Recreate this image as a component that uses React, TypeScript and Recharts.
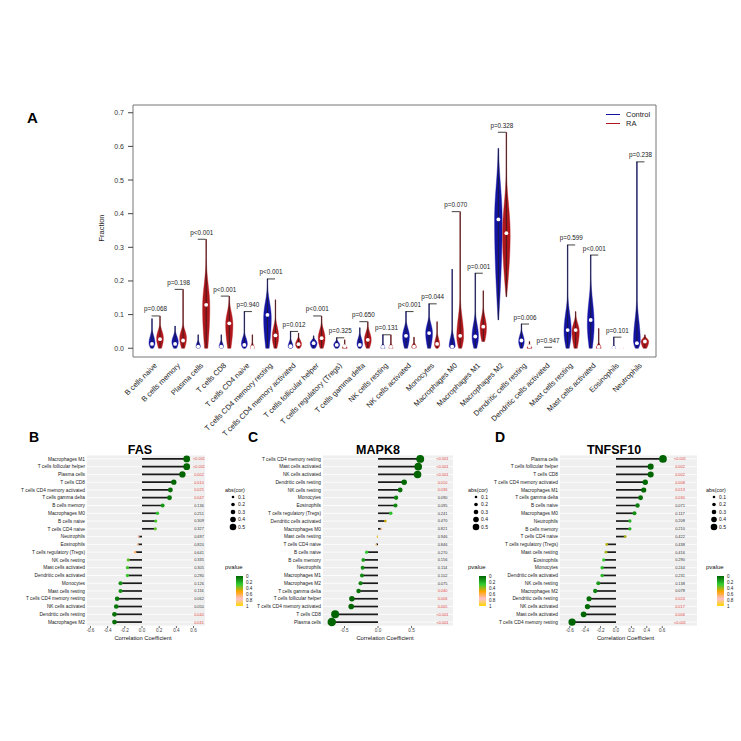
import React from 'react';
import { ComposedChart, Bar, Line, XAxis, YAxis, CartesianGrid, Legend } from 'recharts';

const FONT = '"Liberation Sans", Arial, Helvetica, sans-serif';

// ---------- panel A: immune cell fractions, Control vs RA ----------
const cellTypes = [
  'B cells naive', 'B cells memory', 'Plasma cells', 'T cells CD8', 'T cells CD4 naive',
  'T cells CD4 memory resting', 'T cells CD4 memory activated', 'T cells follicular helper',
  'T cells regulatory (Tregs)', 'T cells gamma delta', 'NK cells resting', 'NK cells activated',
  'Monocytes', 'Macrophages M0', 'Macrophages M1', 'Macrophages M2', 'Dendritic cells resting',
  'Dendritic cells activated', 'Mast cells resting', 'Mast cells activated', 'Eosinophils', 'Neutrophils',
];
const groupNames = ['Control', 'RA'];

// each violin: [min, max, median, densest value, top of the body, relative width]
const controlViolins = [
  [0, 0.088, 0.013, 0.015, 0.06, 0.75],
  [0, 0.066, 0.013, 0.018, 0.055, 0.8],
  [0, 0.04, 0.005, 0.004, 0.028, 0.55],
  [0, 0.04, 0.005, 0.004, 0.028, 0.55],
  [0, 0.109, 0.01, 0.012, 0.05, 0.75],
  [0, 0.206, 0.099, 0.09, 0.185, 0.95],
  [0, 0.05, 0.006, 0.005, 0.032, 0.6],
  [0, 0.037, 0.015, 0.015, 0.033, 0.85],
  [0, 0.031, 0.01, 0.01, 0.027, 0.75],
  [0, 0.061, 0.01, 0.012, 0.05, 0.7],
  [0, 0.04, 0.004, 0, 0.018, 0.5],
  [0, 0.109, 0.037, 0.035, 0.085, 0.85],
  [0, 0.132, 0.045, 0.045, 0.1, 0.85],
  [0, 0.235, 0.005, 0.005, 0.06, 0.75],
  [0, 0.223, 0.035, 0.035, 0.11, 0.8],
  [0.084, 0.594, 0.383, 0.38, 0.594, 0.95],
  [0, 0.072, 0.023, 0.02, 0.06, 0.7],
  [0, 0.003, 0.0005, 0, 0.002, 0.4],
  [0, 0.307, 0.054, 0.05, 0.16, 0.9],
  [0, 0.277, 0.084, 0.07, 0.21, 0.85],
  [0, 0.033, 0.002, 0, 0.012, 0.45],
  [0, 0.554, 0.015, 0.02, 0.15, 0.85],
];
const raViolins = [
  [0, 0.096, 0.027, 0.03, 0.075, 0.85],
  [0, 0.175, 0.023, 0.03, 0.075, 0.85],
  [0, 0.324, 0.129, 0.12, 0.26, 0.9],
  [0, 0.155, 0.074, 0.07, 0.145, 0.9],
  [0, 0.04, 0.003, 0, 0.02, 0.5],
  [0, 0.144, 0.038, 0.035, 0.095, 0.8],
  [0, 0.045, 0.012, 0.012, 0.037, 0.75],
  [0, 0.096, 0.03, 0.03, 0.08, 0.85],
  [0, 0.025, 0.006, 0, 0.016, 0.6],
  [0, 0.079, 0.025, 0.025, 0.07, 0.85],
  [0, 0.04, 0.004, 0, 0.018, 0.5],
  [0, 0.033, 0.005, 0.003, 0.02, 0.6],
  [0, 0.079, 0.013, 0.01, 0.05, 0.65],
  [0, 0.406, 0.037, 0.035, 0.15, 0.85],
  [0.02, 0.171, 0.064, 0.06, 0.125, 0.8],
  [0.153, 0.642, 0.342, 0.34, 0.52, 0.95],
  [0, 0.02, 0.006, 0, 0.016, 0.6],
  [0, 0.003, 0.0005, 0, 0.002, 0.4],
  [0, 0.109, 0.054, 0.05, 0.1, 0.9],
  [0, 0.059, 0.004, 0, 0.02, 0.6],
  [0, 0.004, 0.001, 0, 0.003, 0.4],
  [0, 0.04, 0.02, 0.02, 0.038, 0.95],
];
const pLabels = [
  'p=0.068', 'p=0.198', 'p<0.001', 'p<0.001', 'p=0.940', 'p<0.001', 'p=0.012', 'p<0.001',
  'p=0.325', 'p=0.650', 'p=0.131', 'p<0.001', 'p=0.044', 'p=0.070', 'p=0.001', 'p=0.328',
  'p=0.006', 'p=0.947', 'p=0.599', 'p<0.001', 'p=0.101', 'p=0.238',
];
const fractionTicks = [0, 0.1, 0.2, 0.3, 0.4, 0.5, 0.6, 0.7];

// ---------- panels B-D: correlation lollipops ----------
const fasCells = [
  'Macrophages M1', 'T cells follicular helper', 'Plasma cells', 'T cells CD8', 'T cells CD4 memory activated',
  'T cells gamma delta', 'B cells memory', 'Macrophages M0', 'B cells naive', 'T cells CD4 naive', 'Neutrophils',
  'Eosinophils', 'T cells regulatory (Tregs)', 'NK cells resting', 'Mast cells activated', 'Dendritic cells activated',
  'Monocytes', 'Mast cells resting', 'T cells CD4 memory resting', 'NK cells activated', 'Dendritic cells resting',
  'Macrophages M2',
];
const fasCor = [0.52, 0.52, 0.47, 0.37, 0.33, 0.32, 0.24, 0.18, 0.16, 0.155, -0.04, -0.05, -0.08, -0.16, -0.17, -0.17, -0.25, -0.25, -0.29, -0.3, -0.32, -0.32];
const fasP = [0.0004, 0.0004, 0.002, 0.01, 0.025, 0.047, 0.136, 0.251, 0.309, 0.327, 0.697, 0.82, 0.641, 0.335, 0.305, 0.29, 0.126, 0.116, 0.062, 0.05, 0.04, 0.031];

const mapk8Cells = [
  'T cells CD4 memory resting', 'Mast cells activated', 'NK cells activated', 'Dendritic cells resting',
  'NK cells resting', 'Monocytes', 'Eosinophils', 'T cells regulatory (Tregs)', 'Dendritic cells activated',
  'Macrophages M0', 'Mast cells resting', 'T cells CD4 naive', 'B cells naive', 'B cells memory', 'Neutrophils',
  'Macrophages M1', 'Macrophages M2', 'T cells gamma delta', 'T cells follicular helper',
  'T cells CD4 memory activated', 'T cells CD8', 'Plasma cells',
];
const mapk8Cor = [0.63, 0.6, 0.59, 0.39, 0.33, 0.27, 0.26, 0.19, 0.11, 0.05, -0.01, -0.03, -0.17, -0.22, -0.23, -0.24, -0.26, -0.29, -0.39, -0.4, -0.64, -0.69];
const mapk8P = [0.0004, 0.0004, 0.0004, 0.01, 0.036, 0.09, 0.095, 0.241, 0.47, 0.821, 0.946, 0.846, 0.27, 0.156, 0.114, 0.102, 0.075, 0.04, 0.006, 0.005, 0.0004, 0.0004];

const tnfsf10Cells = [
  'Plasma cells', 'T cells follicular helper', 'T cells CD8', 'T cells CD4 memory activated', 'Macrophages M1',
  'T cells gamma delta', 'B cells naive', 'Macrophages M0', 'Neutrophils', 'B cells memory', 'T cells CD4 naive',
  'T cells regulatory (Tregs)', 'Mast cells resting', 'Eosinophils', 'Monocytes', 'Dendritic cells activated',
  'NK cells resting', 'Macrophages M2', 'Dendritic cells resting', 'NK cells activated', 'Mast cells activated',
  'T cells CD4 memory resting',
];
const tnfsf10Cor = [0.61, 0.45, 0.45, 0.38, 0.36, 0.32, 0.28, 0.24, 0.18, 0.18, 0.12, -0.12, -0.13, -0.16, -0.18, -0.18, -0.23, -0.27, -0.35, -0.37, -0.42, -0.57];
const tnfsf10P = [0.0004, 0.002, 0.002, 0.008, 0.013, 0.03, 0.071, 0.117, 0.208, 0.21, 0.422, 0.438, 0.416, 0.29, 0.244, 0.231, 0.138, 0.078, 0.024, 0.017, 0.006, 0.0004];

const sizeLevels = [0.1, 0.2, 0.3, 0.4, 0.5];
const pvalueLevels = [0, 0.2, 0.4, 0.6, 0.8, 1];

const groupColors = ['#1414a4', '#b0171c'];
const pStops = ['#006400', '#32cd32', '#ffa500', '#ffc0cb', '#ffd700'];
const pOffsets = [0, 0.28, 0.52, 0.76, 1];

const hexToRgb = (h: string) => [1, 3, 5].map((i) => parseInt(h.slice(i, i + 2), 16));
const pColor = (p: number) => {
  const t = Math.min(1, Math.max(0, p));
  let i = 0;
  while (i < pOffsets.length - 2 && t > pOffsets[i + 1]) i++;
  const f = (t - pOffsets[i]) / (pOffsets[i + 1] - pOffsets[i]);
  const a = hexToRgb(pStops[i]);
  const b = hexToRgb(pStops[i + 1]);
  const c = a.map((v, k) => Math.round(v + (b[k] - v) * f));
  return `rgb(${c[0]},${c[1]},${c[2]})`;
};
const dotRadius = (c: number) => 0.8 + 5 * Math.abs(c);
const fmtP = (p: number) => (p < 0.001 ? '<0.001' : p.toFixed(3));

const violinData = cellTypes.map((name, i) => ({
  name,
  ctrl: [controlViolins[i][0], controlViolins[i][1]],
  ra: [raViolins[i][0], raViolins[i][1]],
  ctrlStats: controlViolins[i],
  raStats: raViolins[i],
  mx: Math.max(controlViolins[i][1], raViolins[i][1]),
  pLabel: pLabels[i],
}));

// violin drawn inside the range bar that recharts lays out from [min, max]
const Violin = (props: any) => {
  const { x, y, width, height, payload, statsKey, color } = props;
  if (!payload) return null;
  const [lo, hi, med, mode, body, w] = payload[statsKey];
  const top = Math.min(y, y + height);
  const h = Math.abs(height);
  const cx = x + width / 2;
  const span = hi - lo;
  const toY = (v: number) => top + (h * (hi - v)) / span;
  const base = lo > 0.05 ? 0.08 : 0.45;
  const halfAt = (v: number) => {
    let f: number;
    if (v <= mode) f = mode > lo ? base + (1 - base) * Math.sin((Math.PI / 2) * ((v - lo) / (mode - lo))) : 1;
    else if (v <= body) f = 0.1 + 0.9 * 0.5 * (1 + Math.cos((Math.PI * (v - mode)) / (body - mode)));
    else f = 0.1 * (1 - (v - body) / (hi - body));
    return Math.max(0.3, (f * w * width) / 2);
  };
  const n = 60;
  const right: string[] = [];
  const left: string[] = [];
  for (let i = 0; i <= n; i++) {
    const v = lo + (span * i) / n;
    const hw = halfAt(v);
    right.push(`${(cx + hw).toFixed(2)},${toY(v).toFixed(2)}`);
    left.unshift(`${(cx - hw).toFixed(2)},${toY(v).toFixed(2)}`);
  }
  return (
    <g>
      <path d={`M${right.join('L')}L${left.join('L')}Z`} fill={color} stroke={color} strokeWidth={0.4} />
      <line x1={cx} x2={cx} y1={toY(lo)} y2={toY(hi)} stroke="#1a1a1a" strokeWidth={0.7} />
      <circle cx={cx} cy={toY(med)} r={1.9} fill="#fff" />
    </g>
  );
};

const renderBracket = (props: any) => {
  const { cx, cy, payload, index } = props;
  return (
    <g key={`br${index}`}>
      <line x1={cx - 4} x2={cx + 4} y1={cy} y2={cy} stroke="#111" strokeWidth={0.8} />
      <text x={cx} y={cy - 4.5} textAnchor="middle" fontSize={6.3} fill="#222" fontFamily={FONT}>
        {payload.pLabel}
      </text>
    </g>
  );
};

const AngledTick = (props: any) => {
  const { x, y, payload } = props;
  return (
    <g transform={`translate(${x + 2},${y + 9})`}>
      <text textAnchor="end" transform="rotate(-45)" fontSize={7.5} fill="#222" fontFamily={FONT}>
        {payload.value}
      </text>
    </g>
  );
};

const FractionChart = () => (
  <ComposedChart width={741} height={445} data={violinData} margin={{ top: 105, right: 85, left: 113, bottom: 0 }} barGap={0}>
    <CartesianGrid horizontalPoints={[105, 357]} verticalPoints={[133, 656]} stroke="#777" fill="none" />
    <XAxis dataKey="name" type="category" interval={0} padding={{ left: 11, right: 4 }} axisLine={false} tickLine={false}
      tickSize={0} tickMargin={0} height={88} tick={(p: any) => <AngledTick {...p} />} />
    <YAxis type="number" domain={[-0.026, 0.723]} ticks={fractionTicks} allowDataOverflow width={20}
      tickFormatter={(v: number) => v.toFixed(1)} tickSize={5} tickMargin={4}
      tick={{ fontSize: 7, fill: '#333', fontFamily: FONT }} tickLine={{ stroke: '#444' }} axisLine={false}
      label={(p: any) => {
        const vb = p.viewBox;
        const cx = vb.x - 11;
        const cy = vb.y + vb.height / 2 - 3;
        return (
          <text x={cx} y={cy} transform={`rotate(-90 ${cx} ${cy})`} textAnchor="middle" dominantBaseline="middle"
            fontSize={7.5} fill="#222" fontFamily={FONT}>Fraction</text>
        );
      }} />
    <Bar dataKey="ctrl" name={groupNames[0]} barSize={8} isAnimationActive={false}
      shape={(p: any) => <Violin {...p} statsKey="ctrlStats" color={groupColors[0]} />} />
    <Bar dataKey="ra" name={groupNames[1]} barSize={8} isAnimationActive={false}
      shape={(p: any) => <Violin {...p} statsKey="raStats" color={groupColors[1]} />} />
    <Line dataKey="mx" stroke="none" dot={renderBracket} activeDot={false} legendType="none" isAnimationActive={false} />
    <Legend layout="vertical" align="center" verticalAlign="middle"
      wrapperStyle={{ left: 606, top: 110, width: 60, height: 20 }}
      content={() => (
        <div style={{ fontFamily: FONT }}>
          {groupNames.map((g, i) => (
            <div key={g} style={{ display: 'flex', alignItems: 'center', height: 9 }}>
              <span style={{ width: 14, borderTop: `1.6px solid ${groupColors[i]}`, marginRight: 6 }} />
              <span style={{ fontSize: 7.5, color: '#222', lineHeight: '9px' }}>{g}</span>
            </div>
          ))}
        </div>
      )} />
  </ComposedChart>
);

const CorLegend = ({ id }: { id: string }) => (
  <svg width={45} height={130} style={{ fontFamily: FONT, overflow: 'visible' }}>
    <defs>
      <linearGradient id={id} x1="0" y1="0" x2="0" y2="1">
        {pStops.map((c, i) => (
          <stop key={c} offset={`${pOffsets[i] * 100}%`} stopColor={c} />
        ))}
      </linearGradient>
    </defs>
    <text x={1} y={8} fontSize={5.4} fill="#111">abs(cor)</text>
    {sizeLevels.map((s, i) => (
      <g key={s}>
        <circle cx={9} cy={13 + i * 7.5} r={dotRadius(s)} fill="#000" />
        <text x={14} y={13 + i * 7.5 + 1.8} fontSize={5} fill="#111">{s}</text>
      </g>
    ))}
    <text x={1} y={85} fontSize={6} fill="#111">pvalue</text>
    <rect x={12} y={92} width={7} height={30} fill={`url(#${id})`} />
    {pvalueLevels.map((v) => (
      <text key={v} x={22} y={92 + v * 30 + 1.6} fontSize={4.6} fill="#222">{v}</text>
    ))}
  </svg>
);

type PanelProps = {
  id: string; cells: string[]; cor: number[]; p: number[];
  left: number; width: number; marginLeft: number; marginRight: number;
  domain: [number, number]; ticks: number[]; pX: number; legendLeft: number;
};

const LollipopPanel = ({ id, cells, cor, p, left, width, marginLeft, marginRight, domain, ticks, pX, legendLeft }: PanelProps) => {
  const rows = cells.map((name, i) => ({ name, cor: cor[i], p: p[i] }));
  const renderRowTick = (props: any) => {
    const { x, y, payload, index } = props;
    const row = rows[index];
    return (
      <g fontFamily={FONT}>
        <text x={x} y={y} dy={1.7} textAnchor="end" fontSize={4.8} fill="#222">{payload.value}</text>
        {row && (
          <text x={pX} y={y} dy={1.4} textAnchor="middle" fontSize={3.9} fill={row.p < 0.05 ? '#e0443e' : '#333'}>
            {fmtP(row.p)}
          </text>
        )}
      </g>
    );
  };
  const renderDot = (props: any) => {
    const { cx, cy, payload, index } = props;
    return <circle key={`d${index}`} cx={cx} cy={cy} r={dotRadius(payload.cor)} fill={pColor(payload.p)} />;
  };
  return (
    <div style={{ position: 'absolute', left, top: 440 }}>
      <ComposedChart layout="vertical" width={width} height={210} data={rows}
        margin={{ top: 15, right: marginRight, left: marginLeft, bottom: 6 }} barCategoryGap={0}>
        <CartesianGrid fill="#efefef" stroke="#ffffff" strokeWidth={0.8} vertical={false} />
        <XAxis type="number" domain={domain} ticks={ticks} allowDataOverflow height={18}
          tickFormatter={(v: number) => v.toFixed(1)} axisLine={false} tickSize={2} tickMargin={1}
          tickLine={{ stroke: '#666' }} tick={{ fontSize: 4.6, fill: '#444', fontFamily: FONT }}
          label={(lp: any) => {
            const vb = lp.viewBox;
            return (
              <text x={vb.x + vb.width / 2 - 3} y={vb.y + 14} textAnchor="middle" fontSize={5.8} fill="#111" fontFamily={FONT}>
                Correlation Coefficient
              </text>
            );
          }} />
        <YAxis type="category" dataKey="name" width={70} axisLine={false} tickLine={false} tickSize={0}
          tickMargin={2} interval={0} tick={renderRowTick} />
        <Bar dataKey="cor" barSize={1.7} fill="#1a1a1a" isAnimationActive={false} />
        <Line dataKey="cor" stroke="none" dot={renderDot} activeDot={false} isAnimationActive={false} />
        <Legend layout="vertical" align="center" verticalAlign="middle"
          wrapperStyle={{ left: legendLeft, top: 44, width: 45, height: 130 }}
          content={() => <CorLegend id={`grad-${id}`} />} />
      </ComposedChart>
    </div>
  );
};

const App = () => (
  <div style={{ position: 'absolute', left: 0, top: 0, width: 741, height: 741, background: '#fff', fontFamily: FONT }}>
    <div style={{ position: 'absolute', left: 0, top: 0 }}>
      <FractionChart />
    </div>
    <LollipopPanel id="fas" cells={fasCells} cor={fasCor} p={fasP} left={0} width={270} marginLeft={17} marginRight={65}
      domain={[-0.64, 0.733]} ticks={[-0.6, -0.4, -0.2, 0, 0.2, 0.4, 0.6]} pX={199} legendLeft={224} />
    <LollipopPanel id="mapk8" cells={mapk8Cells} cor={mapk8Cor} p={mapk8P} left={245} width={250} marginLeft={8} marginRight={42}
      domain={[-0.821, 1.119]} ticks={[-0.5, 0, 0.5]} pX={197.5} legendLeft={222} />
    <LollipopPanel id="tnfsf10" cells={tnfsf10Cells} cor={tnfsf10Cor} p={tnfsf10P} left={480} width={261} marginLeft={10} marginRight={44}
      domain={[-0.727, 1.052]} ticks={[-0.6, -0.4, -0.2, 0, 0.2, 0.4, 0.6]} pX={200} legendLeft={225} />
    <svg width={741} height={741} style={{ position: 'absolute', left: 0, top: 0, pointerEvents: 'none' }} fontFamily={FONT}>
      <text x={27} y={123} fontSize={15} fontWeight="bold" fill="#000">A</text>
      <text x={29} y={442} fontSize={14} fontWeight="bold" fill="#000">B</text>
      <text x={248} y={442} fontSize={14} fontWeight="bold" fill="#000">C</text>
      <text x={495} y={442} fontSize={14} fontWeight="bold" fill="#000">D</text>
      <text x={140} y={454} fontSize={12.5} fontWeight="bold" textAnchor="middle" fill="#000">FAS</text>
      <text x={378} y={454} fontSize={12.5} fontWeight="bold" textAnchor="middle" fill="#000">MAPK8</text>
      <text x={614} y={454} fontSize={12.5} fontWeight="bold" textAnchor="middle" fill="#000">TNFSF10</text>
    </svg>
  </div>
);

export default App;
